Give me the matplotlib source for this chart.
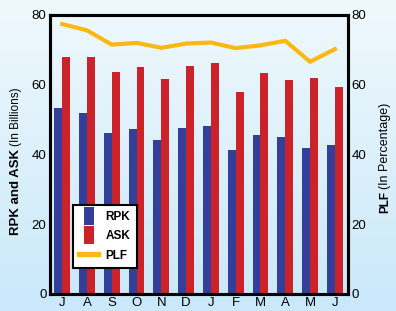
import numpy as np
import matplotlib
matplotlib.use('Agg')
import matplotlib.pyplot as plt
from matplotlib.lines import Line2D

plt.rcParams['font.family'] = ['Liberation Sans', 'DejaVu Sans']

months = ['J', 'A', 'S', 'O', 'N', 'D', 'J', 'F', 'M', 'A', 'M', 'J']
rpk = [53.4, 51.9, 46.2, 47.4, 44.2, 47.7, 48.2, 41.3, 45.6, 45.1, 41.9, 42.6]
ask = [67.9, 67.9, 63.7, 65.2, 61.7, 65.4, 66.3, 58.0, 63.4, 61.4, 62.0, 59.4]
plf = [77.4, 75.6, 71.5, 72.0, 70.6, 71.8, 72.1, 70.5, 71.3, 72.6, 66.6, 70.2]

c_rpk = '#333f99'
c_ask = '#cc232b'
c_plf = '#fbb714'

fig = plt.figure(figsize=(3.96, 3.11), dpi=100)

# background gradient
bg = fig.add_axes([0, 0, 1, 1], zorder=-10)
grad = np.linspace(0, 1, 256).reshape(-1, 1)
top = np.array([0.94, 0.975, 0.99])
bot = np.array([0.79, 0.91, 0.98])
img = top + (bot - top) * grad[:, :, None]
bg.imshow(img, aspect='auto', extent=[0, 1, 0, 1])
bg.axis('off')

ax = fig.add_axes([0.1263, 0.0547, 0.7525, 0.8971])
ax.patch.set_alpha(0)
x = np.arange(len(months))
width = 0.32
ax.bar(x - width / 2, rpk, width, color=c_rpk)
ax.bar(x + width / 2, ask, width, color=c_ask)
ax.set_xlim(-0.49, 11.53)
ax.set_ylim(0, 80)
ax.set_yticks([0, 20, 40, 60, 80])
ax.set_xticks(x)
ax.set_xticklabels(months)
ax.tick_params(length=0, labelsize=9.5, pad=2.5)
for s in ax.spines.values():
    s.set_linewidth(2.2)
    s.set_color('black')

ax2 = ax.twinx()
ax2.plot(x, plf, color=c_plf, lw=3, solid_joinstyle='miter')
ax2.set_ylim(0, 80)
ax2.set_yticks([0, 20, 40, 60, 80])
ax2.tick_params(length=0, labelsize=9.5, pad=2.5)
for s in ax2.spines.values():
    s.set_linewidth(2.2)

# axis labels, bold part + regular part
fig.text(16 / 396, 1 - 235 / 311, 'RPK and ASK', rotation=90, ha='center', va='bottom',
         fontsize=9.5, fontweight='bold')
fig.text(16 / 396, 1 - 146 / 311, '(In Billions)', rotation=90, ha='center', va='bottom',
         fontsize=8.5)
fig.text(385 / 396, 1 - 213 / 311, 'PLF', rotation=90, ha='center', va='bottom',
         fontsize=8.5, fontweight='bold')
fig.text(385 / 396, 1 - 189 / 311, '(In Percentage)', rotation=90, ha='center', va='bottom',
         fontsize=9)

bar_mark = [(-0.27, -0.5), (0.27, -0.5), (0.27, 0.5), (-0.27, 0.5)]
handles = [
    Line2D([], [], ls='none', marker=bar_mark, markersize=12.5, color=c_rpk, markeredgewidth=0),
    Line2D([], [], ls='none', marker=bar_mark, markersize=12.5, color=c_ask, markeredgewidth=0),
    Line2D([], [], color=c_plf, lw=3.8),
]
leg = ax2.legend(handles, ['RPK', 'ASK', 'PLF'], loc='lower left',
                 bbox_to_anchor=(0.077, 0.093), borderaxespad=0, fancybox=False,
                 framealpha=1, edgecolor='black', handlelength=1.6, handletextpad=0.6,
                 borderpad=0.55, labelspacing=0.6, prop={'weight': 'bold', 'size': 8.5})
leg.get_frame().set_linewidth(1.5)

fig.savefig('out.png', dpi=100)
